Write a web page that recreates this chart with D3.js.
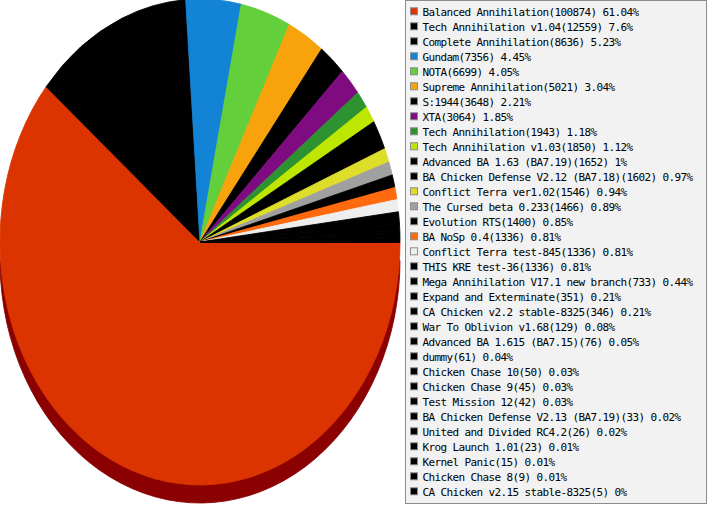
<!DOCTYPE html>
<html>
<head>
<meta charset="utf-8">
<script src="https://cdn.jsdelivr.net/npm/d3@7"></script>
<style>
  body { margin: 0; background: #fff; }
  svg { display: block; }
</style>
</head>
<body>
<div id="chart-area"></div>
<script>
// mod names and game counts, same order as the legend
var mods = [
    "Balanced Annihilation", "Tech Annihilation v1.04", "Complete Annihilation", "Gundam",
    "NOTA", "Supreme Annihilation", "S:1944", "XTA", "Tech Annihilation",
    "Tech Annihilation v1.03", "Advanced BA 1.63 (BA7.19)", "BA Chicken Defense V2.12 (BA7.18)",
    "Conflict Terra ver1.02", "The Cursed beta 0.233", "Evolution RTS", "BA NoSp 0.4",
    "Conflict Terra test-845", "THIS KRE test-36", "Mega Annihilation V17.1 new branch",
    "Expand and Exterminate", "CA Chicken v2.2 stable-8325", "War To Oblivion v1.68",
    "Advanced BA 1.615 (BA7.15)", "dummy", "Chicken Chase 10", "Chicken Chase 9",
    "Test Mission 12", "BA Chicken Defense V2.13 (BA7.19)", "United and Divided RC4.2",
    "Krog Launch 1.01", "Kernel Panic", "Chicken Chase 8", "CA Chicken v2.15 stable-8325"
];
var games = [
    100874, 12559, 8636, 7356, 6699, 5021, 3648, 3064, 1943, 1850, 1652, 1602, 1546,
    1466, 1400, 1336, 1336, 1336, 733, 351, 346, 129, 76, 61, 50, 45, 42, 33, 26, 23,
    15, 9, 5
];
var percents = [
    "61.04", "7.6", "5.23", "4.45", "4.05", "3.04", "2.21", "1.85", "1.18", "1.12", "1",
    "0.97", "0.94", "0.89", "0.85", "0.81", "0.81", "0.81", "0.44", "0.21", "0.21", "0.08",
    "0.05", "0.04", "0.03", "0.03", "0.03", "0.02", "0.02", "0.01", "0.01", "0.01", "0"
];
var colors = [
    "#db3400", "#000000", "#000000", "#1384d5", "#63cf3b", "#f8a30b", "#000000", "#7e0c80",
    "#2d9230", "#bde700", "#000000", "#000000", "#dddd2a", "#a0a0a0", "#000000", "#ff6a0e",
    "#eeeeee", "#000000", "#000000", "#000000", "#000000", "#000000", "#000000", "#000000",
    "#000000", "#000000", "#000000", "#000000", "#000000", "#000000", "#000000", "#000000",
    "#000000"
];

var width = 707, height = 505;
var cx = 200, cy = 242, rx = 200, ry = 243, depth = 18;

var svg = d3.select("#chart-area").append("svg")
    .attr("width", width)
    .attr("height", height);

var data = games.map((g, i) => {
    return { name: mods[i], games: g, pct: percents[i], color: colors[i] };
});

// start at 3 o'clock, going clockwise
var pie = d3.pie()
    .value((d) => { return d.games; })
    .sort(null)
    .startAngle(Math.PI / 2)
    .endAngle(Math.PI / 2 + 2 * Math.PI);

var arc = d3.arc().innerRadius(0).outerRadius(rx);
var slices = pie(data);

var shadowOf = function(c) {
    if (c === "#db3400") return "#8b0000";
    return d3.color(c).darker(1.2).toString();
};

// side of the pie: only the front half shows
svg.append("clipPath").attr("id", "front")
    .append("rect")
    .attr("x", 0).attr("y", cy + depth + 0.5)
    .attr("width", rx * 2 + 2).attr("height", ry + depth);

var side = svg.append("g").attr("clip-path", "url(#front)")
    .append("g")
    .attr("transform", "translate(" + cx + "," + (cy + depth) + ") scale(1," + (ry / rx) + ")");

side.selectAll("path")
    .data(slices)
    .enter().append("path")
    .attr("d", arc)
    .attr("fill", (d) => { return shadowOf(d.data.color); })
    .attr("stroke", (d) => { return shadowOf(d.data.color); })
    .attr("stroke-width", 0.8)
    .attr("stroke-linejoin", "round");

var pieTop = svg.append("g")
    .attr("transform", "translate(" + cx + "," + cy + ") scale(1," + (ry / rx) + ")");

pieTop.selectAll("path")
    .data(slices)
    .enter().append("path")
    .attr("d", arc)
    .attr("fill", (d) => { return d.data.color; })
    .attr("stroke", (d) => { return d.data.color; })
    .attr("stroke-width", 0.8)
    .attr("stroke-linejoin", "round");

// Legend
var legendX = 405, legendW = 301, legendH = 503, rowH = 15, firstRow = 12.3;

var legend = svg.append("g").attr("class", "legend");

legend.append("rect")
    .attr("x", legendX + 0.5)
    .attr("y", 0.5)
    .attr("width", legendW)
    .attr("height", legendH)
    .attr("fill", "#f2f2f2")
    .attr("stroke", "#8c8c8c");

var rowY = d3.scaleLinear().domain([0, 1]).range([firstRow, firstRow + rowH]);

var rows = legend.selectAll(".row")
    .data(data)
    .enter().append("g")
    .attr("class", "row")
    .attr("transform", (d, i) => { return "translate(0," + rowY(i) + ")"; });

rows.append("rect")
    .attr("x", 410.5)
    .attr("y", -4.5)
    .attr("width", 7)
    .attr("height", 7)
    .attr("fill", (d) => { return d.color; })
    .attr("stroke", "#8c8c8c");

rows.append("text")
    .attr("x", 422.5)
    .attr("y", 4)
    .attr("font-family", "DejaVu Sans Mono, Liberation Mono, monospace")
    .attr("font-size", "11px")
    .attr("letter-spacing", "-0.62px")
    .style("fill", "black")
    .text((d) => { return d.name + "(" + d.games + ") " + d.pct + "%"; });
</script>
</body>
</html>
